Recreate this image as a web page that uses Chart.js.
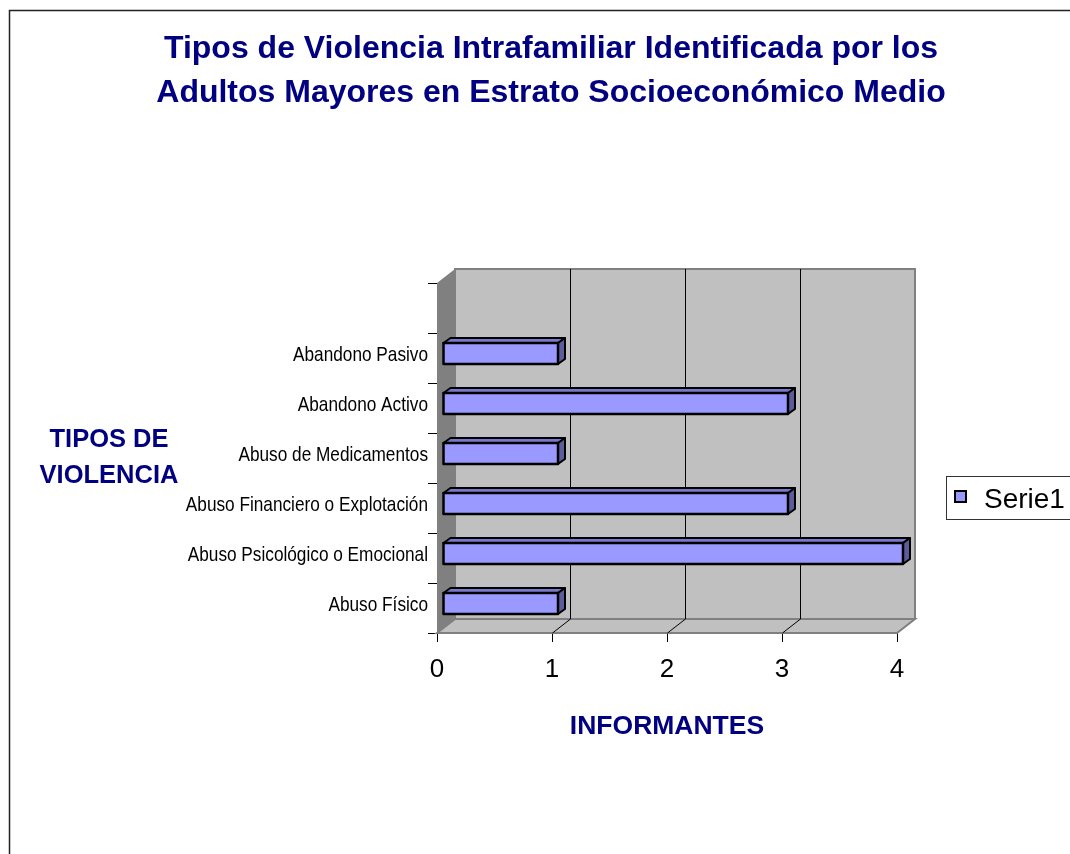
<!DOCTYPE html>
<html>
<head>
<meta charset="utf-8">
<script src="https://cdn.jsdelivr.net/npm/chart.js@4/dist/chart.umd.min.js"></script>
<style>
  html, body { margin: 0; padding: 0; background: #fff; }
  #wrap { width: 1070px; height: 854px; position: relative; }
</style>
</head>
<body>
<div id="wrap"><canvas id="violenciaChart" width="1070" height="854"></canvas></div>
<script>
// datos (de abajo hacia arriba, como en el original)
const tiposViolencia = [
    'Abuso Físico',
    'Abuso Psicológico o Emocional',
    'Abuso Financiero o Explotación',
    'Abuso de Medicamentos',
    'Abandono Activo',
    'Abandono Pasivo',
    ''
];
const informantes = [1, 4, 3, 1, 3, 1, null];
const ticksInformantes = [0, 1, 2, 3, 4];
const tituloLineas = [
    'Tipos de Violencia Intrafamiliar Identificada por los',
    'Adultos Mayores en Estrato Socioeconómico Medio'
];
const tituloEjeY = ['TIPOS DE', 'VIOLENCIA'];
const tituloEjeX = 'INFORMANTES';
const nombreSerie = 'Serie1';

const azulTitulo = '#000080';
const fondo = { dx: 18, dy: -14 };      // profundidad de las paredes
const barra = { dx: 6, dy: -4.5, px: 7, py: -5 };  // desplazamiento y grosor 3D de las barras

function poly(ctx, pts, fill, stroke, lw) {
    ctx.beginPath();
    ctx.moveTo(pts[0][0], pts[0][1]);
    for (let i = 1; i < pts.length; i++) ctx.lineTo(pts[i][0], pts[i][1]);
    ctx.closePath();
    if (fill) { ctx.fillStyle = fill; ctx.fill(); }
    if (stroke) { ctx.strokeStyle = stroke; ctx.lineWidth = lw || 1; ctx.stroke(); }
}

// paredes 3D estilo Excel
const paredes = {
    id: 'paredes',
    beforeDatasetsDraw(chart) {
        const ctx = chart.ctx;
        const a = chart.chartArea;
        const x = chart.scales.x;
        const dx = fondo.dx, dy = fondo.dy;
        ctx.save();
        // pared izquierda
        poly(ctx, [[a.left, a.top], [a.left + dx, a.top + dy], [a.left + dx, a.bottom + dy], [a.left, a.bottom]], '#808080');
        // pared del fondo
        poly(ctx, [[a.left + dx, a.top + dy], [a.right + dx, a.top + dy], [a.right + dx, a.bottom + dy], [a.left + dx, a.bottom + dy]], '#c0c0c0', '#808080', 2);
        // piso
        poly(ctx, [[a.left, a.bottom], [a.left + dx, a.bottom + dy], [a.right + dx, a.bottom + dy], [a.right, a.bottom]], '#c0c0c0', '#808080', 2);
        // lineas de division
        ctx.strokeStyle = '#000';
        ctx.lineWidth = 1;
        ticksInformantes.forEach(v => {
            if (v === 0 || v === ticksInformantes[ticksInformantes.length - 1]) return;
            const px = Math.round(x.getPixelForValue(v)) + 0.5;
            ctx.beginPath();
            ctx.moveTo(px + dx, a.top + dy);
            ctx.lineTo(px + dx, a.bottom + dy);
            ctx.moveTo(px + dx, a.bottom + dy);
            ctx.lineTo(px, a.bottom);
            ctx.stroke();
        });
        ctx.restore();
    },
    afterDatasetsDraw(chart) {
        const ctx = chart.ctx;
        const meta = chart.getDatasetMeta(0);
        ctx.save();
        ctx.lineJoin = 'round';
        meta.data.forEach((el, i) => {
            if (informantes[i] === null) return;
            const p = el.getProps(['x', 'y', 'base', 'height'], true);
            const l = p.base + barra.dx, r = p.x + barra.dx;
            const t = p.y - p.height / 2 + barra.dy, b = p.y + p.height / 2 + barra.dy;
            const px = barra.px, py = barra.py;
            poly(ctx, [[l, t], [l + px, t + py], [r + px, t + py], [r, t]], '#7878cc', '#000', 2);
            poly(ctx, [[r, t], [r + px, t + py], [r + px, b + py], [r, b]], '#5c5c9c', '#000', 2);
            poly(ctx, [[l, t], [r, t], [r, b], [l, b]], '#9999ff', '#000', 2.5);
        });
        ctx.restore();
    },
    afterDraw(chart) {
        const ctx = chart.ctx;
        const y = chart.scales.y;
        ctx.save();
        // marco del grafico
        ctx.strokeStyle = '#222';
        ctx.lineWidth = 1.5;
        ctx.beginPath();
        ctx.moveTo(9.5, 860);
        ctx.lineTo(9.5, 10.5);
        ctx.lineTo(1080, 10.5);
        ctx.stroke();

        // etiquetas de categoria (letra angosta, como Arial Narrow)
        ctx.fillStyle = '#000';
        ctx.textAlign = 'right';
        ctx.textBaseline = 'middle';
        ctx.font = '21px "Liberation Sans", Arial, sans-serif';
        y.ticks.forEach((t, i) => {
            const label = tiposViolencia[t.value];
            if (!label) return;
            const py = y.getPixelForTick(i) - 3;
            ctx.save();
            ctx.translate(y.right - 9, py);
            ctx.scale(0.82, 1);
            ctx.fillText(label, 0, 0);
            ctx.restore();
        });

        // titulo
        ctx.fillStyle = azulTitulo;
        ctx.textAlign = 'center';
        ctx.textBaseline = 'alphabetic';
        ctx.font = 'bold 32px "Liberation Sans", Arial, sans-serif';
        ctx.fillText(tituloLineas[0], 551, 58);
        ctx.fillText(tituloLineas[1], 551, 102);

        // titulos de ejes
        ctx.font = 'bold 25.5px "Liberation Sans", Arial, sans-serif';
        ctx.fillText(tituloEjeY[0], 109, 447);
        ctx.fillText(tituloEjeY[1], 109, 483);
        ctx.font = 'bold 26.5px "Liberation Sans", Arial, sans-serif';
        ctx.fillText(tituloEjeX, 667, 734);

        // leyenda
        ctx.fillStyle = '#fff';
        ctx.fillRect(946.5, 476.5, 140, 43);
        ctx.strokeStyle = '#333';
        ctx.lineWidth = 1;
        ctx.strokeRect(946.5, 476.5, 140, 43);
        ctx.fillStyle = '#9999ff';
        ctx.fillRect(955, 491, 11, 11);
        ctx.strokeStyle = '#000';
        ctx.lineWidth = 2;
        ctx.strokeRect(955, 491, 11, 11);
        ctx.fillStyle = '#000';
        ctx.textAlign = 'left';
        ctx.font = '28px "Liberation Sans", Arial, sans-serif';
        ctx.fillText(nombreSerie, 984, 508);
        ctx.restore();
    }
};

const ctx = document.getElementById('violenciaChart').getContext('2d');
new Chart(ctx, {
    type: 'bar',
    data: {
        labels: tiposViolencia,
        datasets: [{
            label: nombreSerie,
            data: informantes,
            backgroundColor: 'rgba(0,0,0,0)',
            borderWidth: 0,
            categoryPercentage: 1,
            barPercentage: 0.42
        }]
    },
    options: {
        indexAxis: 'y',
        responsive: false,
        animation: false,
        layout: {
            padding: { left: 0, right: 173, top: 283, bottom: 0 }
        },
        plugins: {
            legend: { display: false },
            tooltip: { enabled: false },
            title: { display: false }
        },
        scales: {
            x: {
                min: 0,
                max: 4,
                afterBuildTicks: scale => {
                    scale.ticks = ticksInformantes.map(v => ({ value: v }));
                },
                afterFit: scale => { scale.height = 221; },
                grid: {
                    drawOnChartArea: false,
                    drawTicks: true,
                    tickLength: 9,
                    color: '#000'
                },
                border: { color: '#000', width: 1 },
                ticks: {
                    color: '#000',
                    padding: 12,
                    font: { family: '"Liberation Sans", Arial, sans-serif', size: 26 }
                }
            },
            y: {
                reverse: true,
                afterFit: scale => { scale.width = 437; },
                grid: {
                    offset: true,
                    drawOnChartArea: false,
                    drawTicks: true,
                    tickLength: 9,
                    color: '#000'
                },
                border: { color: '#000', width: 1 },
                ticks: {
                    display: false,
                    autoSkip: false
                }
            }
        }
    },
    plugins: [paredes]
});
</script>
</body>
</html>
